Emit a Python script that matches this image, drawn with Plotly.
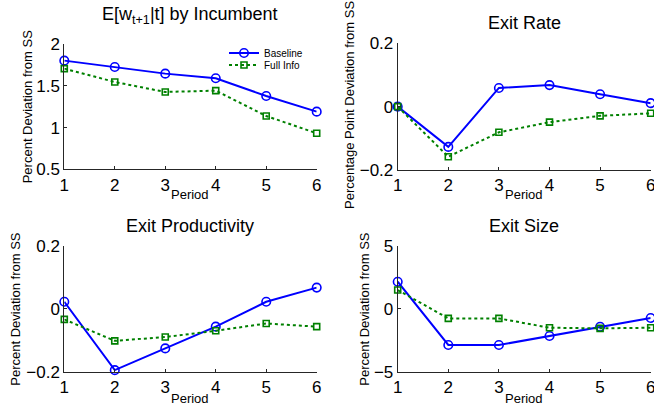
import plotly.graph_objects as go

W, H = 654, 406

periods = [1, 2, 3, 4, 5, 6]

# Panel 1: E[w_{t+1}|t] by Incumbent
wage_baseline = [1.804, 1.728, 1.648, 1.592, 1.380, 1.192]
wage_fullinfo = [1.708, 1.548, 1.428, 1.444, 1.140, 0.932]

# Panel 2: Exit Rate
rate_baseline = [0.000, -0.127, 0.059, 0.068, 0.039, 0.011]
rate_fullinfo = [0.000, -0.158, -0.081, -0.049, -0.029, -0.021]

# Panel 3: Exit Productivity
prod_baseline = [0.022, -0.195, -0.126, -0.057, 0.022, 0.067]
prod_fullinfo = [-0.034, -0.102, -0.090, -0.070, -0.047, -0.057]

# Panel 4: Exit Size
size_baseline = [2.14, -2.88, -2.88, -2.17, -1.43, -0.74]
size_fullinfo = [1.48, -0.77, -0.77, -1.51, -1.56, -1.51]

titles = ["E[w<sub>t+1</sub>|t] by Incumbent", "Exit Rate", "Exit Productivity", "Exit Size"]
ylabels = ["Percent Deviation from SS", "Percentage Point Deviation from SS",
           "Percent Deviation from SS", "Percent Deviation from SS"]
yranges = [[0.5, 2], [-0.2, 0.2], [-0.2, 0.2], [-5, 5]]
yticks = [[0.5, 1, 1.5, 2], [-0.2, 0, 0.2], [-0.2, 0, 0.2], [-5, 0, 5]]
yticktext = [["0.5", "1", "1.5", "2"], ["\u22120.2", "0", "0.2"], ["\u22120.2", "0", "0.2"], ["\u22125", "0", "5"]]

series = [(wage_baseline, wage_fullinfo), (rate_baseline, rate_fullinfo),
          (prod_baseline, prod_fullinfo), (size_baseline, size_fullinfo)]

BLUE = "#0000FF"
GREEN = "#008000"
FONT = "Liberation Sans, Arial, sans-serif"

# pixel boxes of each axes: (left, right, top, bottom)
boxes = [(64.3, 316.7, 44.3, 169.3), (397.7, 650.7, 43.3, 170.0),
         (64.3, 316.7, 245.7, 371.7), (397.7, 650.7, 245.7, 371.7)]
title_y = [15, 23, 226, 226]
ylabel_x = [27.5, 350, 16, 365]
ylabel_y = [106.8, 105, 308.7, 308.7]
xlabel_y = [194, 194, 398, 398]

fig = go.Figure()
annotations = []
for i, (base, full) in enumerate(series):
    xa = "x" if i == 0 else f"x{i+1}"
    ya = "y" if i == 0 else f"y{i+1}"
    fig.add_trace(go.Scatter(
        x=periods, y=base, xaxis=xa, yaxis=ya, name="Baseline", legend="legend",
        mode="lines+markers", showlegend=(i == 0), cliponaxis=False,
        line=dict(color=BLUE, width=2),
        marker=dict(symbol="circle-open", size=8.5, color=BLUE, line=dict(width=1.6, color=BLUE))))
    fig.add_trace(go.Scatter(
        x=periods, y=full, xaxis=xa, yaxis=ya, name="Full Info", legend="legend2",
        mode="lines+markers", showlegend=(i == 0), cliponaxis=False,
        line=dict(color=GREEN, width=2, dash="3px,3px"),
        marker=dict(symbol="square-open", size=6, color=GREEN, line=dict(width=1.6, color=GREEN))))

    l, r, t, b = boxes[i]
    xkey = "xaxis" if i == 0 else f"xaxis{i+1}"
    ykey = "yaxis" if i == 0 else f"yaxis{i+1}"
    fig.layout[xkey] = dict(
        domain=[l / W, r / W], anchor=ya, range=[1, 6], tickvals=periods,
        showgrid=False, zeroline=False, showline=True, linecolor="#262626", linewidth=1,
        ticks="inside", ticklen=3, tickcolor="#262626", automargin=False,
        ticklabeloverflow="allow",
        tickfont=dict(size=17, color="#000000", family=FONT), fixedrange=True)
    fig.layout[ykey] = dict(
        domain=[1 - b / H, 1 - t / H], anchor=xa, range=yranges[i],
        tickvals=yticks[i], ticktext=yticktext[i],
        showgrid=False, zeroline=False, showline=True, linecolor="#262626", linewidth=1,
        ticks="inside", ticklen=3, tickcolor="#262626", automargin=False,
        ticklabeloverflow="allow",
        tickfont=dict(size=17, color="#000000", family=FONT), fixedrange=True)

    annotations.append(dict(text=titles[i], x=(l + r) / 2 / W, y=1 - title_y[i] / H,
                            xref="paper", yref="paper", xanchor="center", yanchor="middle",
                            showarrow=False, font=dict(size=18, color="#000000", family=FONT)))
    annotations.append(dict(text=ylabels[i], x=ylabel_x[i] / W, y=1 - ylabel_y[i] / H,
                            xref="paper", yref="paper", xanchor="center", yanchor="middle",
                            textangle=-90, showarrow=False,
                            font=dict(size=13, color="#000000", family=FONT)))
    annotations.append(dict(text="Period", x=(l + r) / 2 / W, y=1 - xlabel_y[i] / H,
                            xref="paper", yref="paper", xanchor="center", yanchor="middle",
                            showarrow=False, font=dict(size=13, color="#000000", family=FONT)))

leg_common = dict(xanchor="left", yanchor="middle", bgcolor="rgba(0,0,0,0)", borderwidth=0,
                  itemwidth=30, font=dict(size=10, color="#000000", family=FONT))

fig.update_layout(
    width=W, height=H, margin=dict(l=0, r=0, t=0, b=0, autoexpand=False),
    paper_bgcolor="white", plot_bgcolor="white",
    annotations=annotations,
    showlegend=True,
    legend=dict(x=224 / W, y=1 - 53 / H, **leg_common),
    legend2=dict(x=224 / W, y=1 - 65 / H, **leg_common),
)

fig.write_html("out.html", config={"displayModeBar": False},
               post_script="document.body.style.margin='0px';document.body.style.overflow='hidden';")
